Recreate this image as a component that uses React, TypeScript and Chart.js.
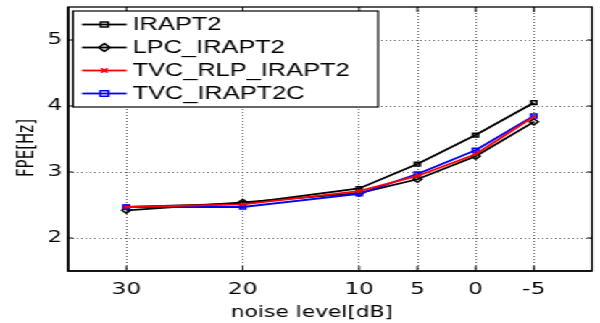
import React, { useEffect, useRef } from "react";
import { Chart, registerables } from "chart.js";

Chart.register(...registerables);

// ---- data ----
const noiseLevels = [30, 20, 10, 5, 0, -5];
const xTickValues = [30, 20, 10, 5, 0, -5];
const yTickValues = [2, 3, 4, 5];
const seriesNames = ["IRAPT2", "LPC_IRAPT2", "TVC_RLP_IRAPT2", "TVC_IRAPT2C"];
const irapt2 = [2.47, 2.52, 2.75, 3.12, 3.56, 4.05];
const lpcIrapt2 = [2.42, 2.54, 2.68, 2.89, 3.24, 3.76];
const tvcRlpIrapt2 = [2.47, 2.51, 2.71, 2.94, 3.27, 3.84];
const tvcIrapt2c = [2.47, 2.47, 2.67, 2.97, 3.33, 3.85];
const xTitle = "noise level[dB]";
const yTitle = "FPE[Hz]";

const CANVAS_W = 414;
const CANVAS_H = 323;
const SX = 600 / CANVAS_W;

const styles = [
  { color: "#000000", pointStyle: "rect", radius: 2.6, order: 3 },
  { color: "#000000", pointStyle: "rectRot", radius: 3, order: 2 },
  { color: "#ff0000", pointStyle: "crossRot", radius: 2.2, order: 0 },
  { color: "#0000ff", pointStyle: "rect", radius: 2.8, order: 1 },
];
const seriesValues = [irapt2, lpcIrapt2, tvcRlpIrapt2, tvcIrapt2c];

const FONT = "'DejaVu Sans', sans-serif";

const framePlugin = {
  id: "frame",
  afterDatasetsDraw(chart: any) {
    const { ctx, chartArea } = chart;
    const { left, right, top, bottom } = chartArea;
    ctx.save();
    ctx.strokeStyle = "#000";
    ctx.lineWidth = 1.3;
    ctx.strokeRect(left, top, right - left, bottom - top);
    ctx.lineWidth = 1.6;
    ctx.beginPath();
    ctx.moveTo(left, top);
    ctx.lineTo(left, bottom);
    ctx.lineTo(right, bottom);
    ctx.stroke();
    ctx.lineWidth = 1;
    const xs = chart.scales.x;
    const ys = chart.scales.y;
    ctx.beginPath();
    xs.ticks.forEach((t: any) => {
      const px = xs.getPixelForValue(t.value);
      ctx.moveTo(px, bottom);
      ctx.lineTo(px, bottom - 5);
      ctx.moveTo(px, top);
      ctx.lineTo(px, top + 5);
    });
    ys.ticks.forEach((t: any) => {
      const py = ys.getPixelForValue(t.value);
      ctx.moveTo(left, py);
      ctx.lineTo(left + 3.5, py);
      ctx.moveTo(right, py);
      ctx.lineTo(right - 3.5, py);
    });
    ctx.stroke();

    // axis titles
    ctx.fillStyle = "#000";
    ctx.font = `15px ${FONT}`;
    ctx.textAlign = "center";
    ctx.textBaseline = "middle";
    ctx.fillText(xTitle, 312 / SX, 313);
    ctx.translate(19.5, 148);
    ctx.rotate(-Math.PI / 2);
    ctx.fillText(yTitle, 0, 0);
    ctx.restore();
  },
};

const legendPlugin = {
  id: "boxLegend",
  afterDraw(chart: any) {
    const { ctx } = chart;
    const bx = 50.4, by = 11, bw = 210.5, bh = 96;
    ctx.save();
    ctx.fillStyle = "#fff";
    ctx.fillRect(bx, by, bw, bh);
    ctx.strokeStyle = "#000";
    ctx.lineWidth = 1.2;
    ctx.strokeRect(bx, by, bw, bh);
    chart.data.datasets.forEach((ds: any, i: number) => {
      const y = 24.5 + i * 23;
      ctx.strokeStyle = ds.borderColor;
      ctx.lineWidth = 1.8;
      ctx.beginPath();
      ctx.moveTo(56.6, y);
      ctx.lineTo(87.4, y);
      ctx.stroke();
      const r = ds.pointRadius;
      ctx.lineWidth = ds.pointBorderWidth;
      ctx.strokeStyle = ds.borderColor;
      ctx.beginPath();
      const cx = 72;
      if (ds.pointStyle === "rect") {
        ctx.rect(cx - r, y - r, 2 * r, 2 * r);
      } else if (ds.pointStyle === "rectRot") {
        ctx.moveTo(cx, y - r * 1.3);
        ctx.lineTo(cx + r * 1.3, y);
        ctx.lineTo(cx, y + r * 1.3);
        ctx.lineTo(cx - r * 1.3, y);
        ctx.closePath();
      } else {
        ctx.moveTo(cx - r, y - r);
        ctx.lineTo(cx + r, y + r);
        ctx.moveTo(cx + r, y - r);
        ctx.lineTo(cx - r, y + r);
      }
      ctx.stroke();
      ctx.fillStyle = "#000";
      ctx.font = "17.5px 'Liberation Sans', Arial, sans-serif";
      ctx.textBaseline = "middle";
      ctx.textAlign = "left";
      ctx.fillText(ds.label, 91.5, y + 0.5);
    });
    ctx.restore();
  },
};

export default function App() {
  const ref = useRef<HTMLCanvasElement>(null);
  useEffect(() => {
    const gridColor = "rgba(0,0,0,0.6)";
    const chart = new Chart(ref.current as HTMLCanvasElement, {
      type: "line",
      data: {
        labels: noiseLevels,
        datasets: seriesNames.map((name, i) => ({
          label: name,
          data: noiseLevels.map((x, j) => ({ x, y: seriesValues[i][j] })),
          borderColor: styles[i].color,
          backgroundColor: "rgba(255,255,255,0)",
          pointBackgroundColor: "rgba(255,255,255,0)",
          pointBorderColor: styles[i].color,
          pointStyle: styles[i].pointStyle as any,
          pointRadius: styles[i].radius,
          pointBorderWidth: 1.5,
          borderWidth: 1.8,
          tension: 0,
          order: styles[i].order,
        })),
      },
      options: {
        animation: false,
        responsive: true,
        maintainAspectRatio: false,
        layout: { padding: { top: 7, right: 5, left: 0, bottom: 0 } },
        plugins: {
          legend: { display: false },
          tooltip: { enabled: false },
        },
        scales: {
          x: {
            type: "linear",
            reverse: true,
            min: -10,
            max: 35,
            afterBuildTicks: (scale: any) => {
              scale.ticks = xTickValues.map((v) => ({ value: v }));
            },
            afterFit: (scale: any) => {
              scale.height = 52;
              scale.paddingLeft = 0;
              scale.paddingRight = 0;
            },
            ticks: {
              color: "#000",
              padding: 9,
              maxRotation: 0,
              autoSkip: false,
              font: { family: FONT, size: 16 },
              callback: (v: any) => String(v),
            },
            grid: { color: gridColor, lineWidth: 1, drawTicks: false },
            border: { display: false, dash: [1, 2] },
            title: { display: false },
          },
          y: {
            type: "linear",
            min: 1.5,
            max: 5.5,
            afterBuildTicks: (scale: any) => {
              scale.ticks = yTickValues.map((v) => ({ value: v }));
            },
            afterFit: (scale: any) => {
              scale.width = 47;
              scale.paddingTop = 0;
              scale.paddingBottom = 0;
            },
            ticks: {
              color: "#000",
              padding: 4,
              font: { family: FONT, size: 16 },
              callback: (v: any) => String(v),
            },
            grid: { color: gridColor, lineWidth: 1, drawTicks: false },
            border: { display: false, dash: [1, 2] },
            title: { display: false },
          },
        },
      },
      plugins: [framePlugin, legendPlugin],
    });
    return () => chart.destroy();
  }, []);

  return (
    <div
      style={{
        position: "fixed",
        left: 0,
        top: 0,
        width: CANVAS_W,
        height: CANVAS_H,
        transform: `scaleX(${SX})`,
        transformOrigin: "0 0",
        background: "#fff",
      }}
    >
      <canvas ref={ref} />
    </div>
  );
}
